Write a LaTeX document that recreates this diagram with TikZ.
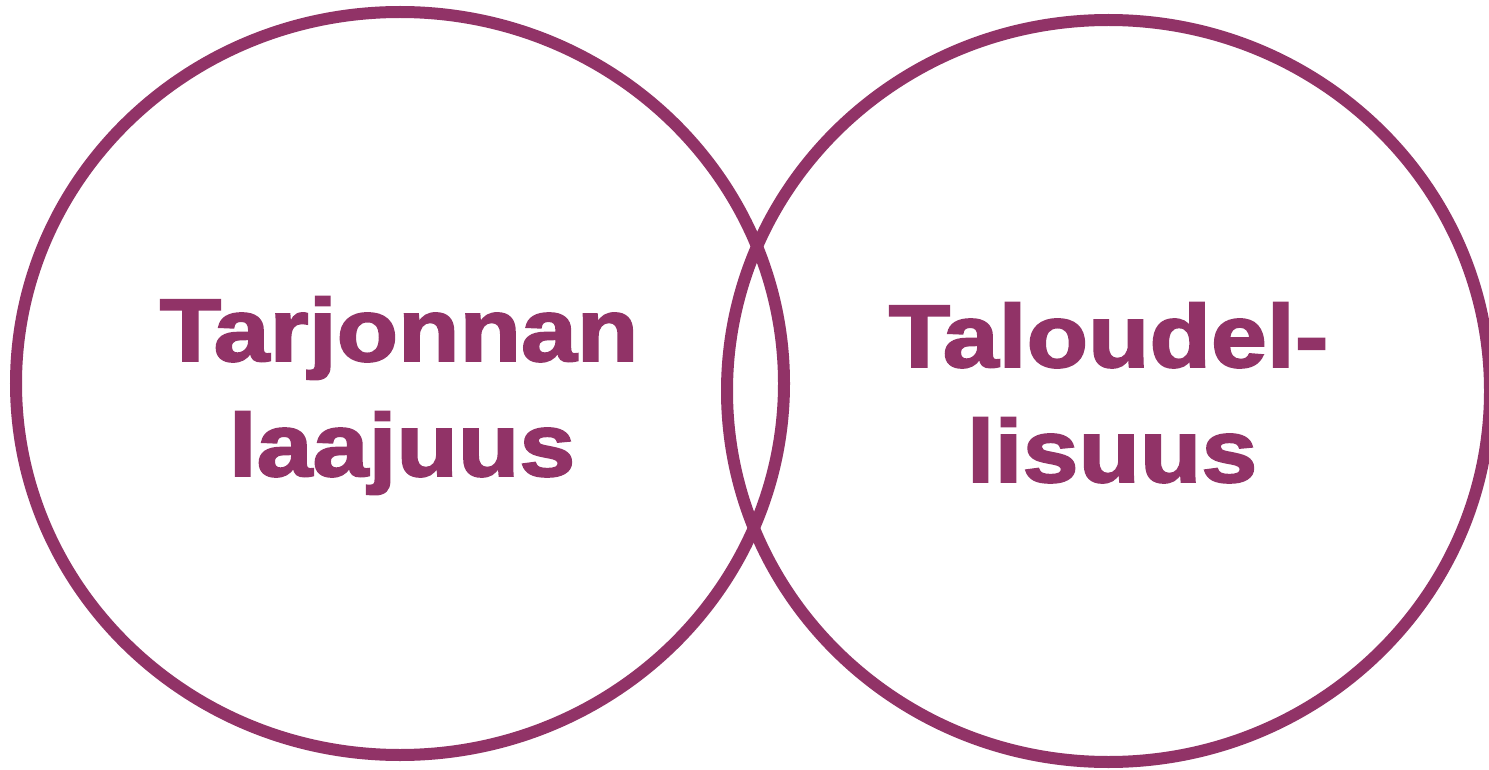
\documentclass[tikz,border=0pt]{standalone}
\usepackage{fontspec}
\newfontfamily\labfont[FakeStretch=1.13,FakeBold=2.2]{Liberation Sans Bold}
\definecolor{plum}{RGB}{145,51,103}
\begin{document}
\begin{tikzpicture}[x=1pt,y=-1pt,
  ring/.style={draw=plum,line width=12pt},
  lbl/.style={text=plum,font=\labfont\fontsize{89}{100}\selectfont,anchor=base,inner sep=0pt}]
\useasboundingbox (0,0) rectangle (1489,770);
\fill[white] (0,0) rectangle (1489,770);
\draw[ring] (400,383.5) ellipse [x radius=384,y radius=371.5];
\draw[ring] (1108.5,391) ellipse [x radius=381.5,y radius=371];
\node[lbl] (tl1) at (399,361) {Tarjonnan};
\node[lbl] (tl2) at (402,476) {laajuus};
\node[lbl] (tr1) at (1108.5,367) {Taloudel-};
\node[lbl] (tr2) at (1112,482) {lisuus};
\end{tikzpicture}
\end{document}
